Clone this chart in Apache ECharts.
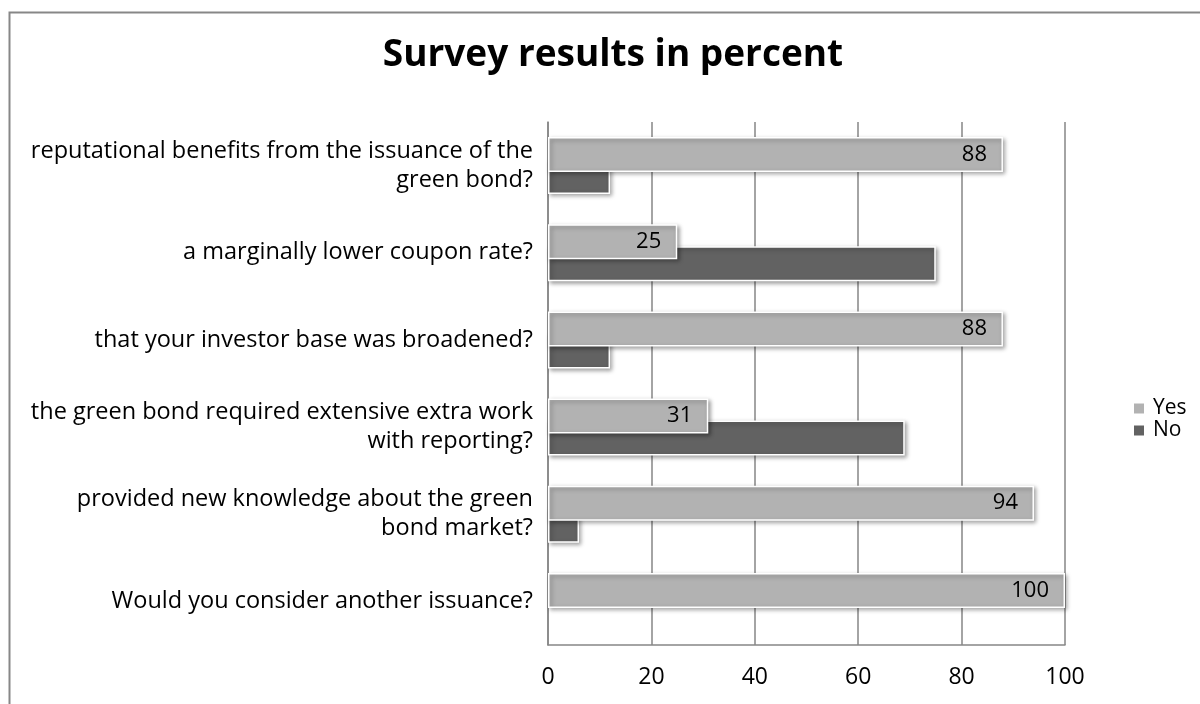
<!DOCTYPE html>
<html>
<head>
<meta charset="utf-8">
<script src="https://cdn.jsdelivr.net/npm/echarts@6/dist/echarts.min.js"></script>
<style>
  html, body { margin: 0; padding: 0; background: #fff; }
  #chart { width: 1200px; height: 704px; }
</style>
</head>
<body>
<div id="chart"></div>
<script>
// questions, top to bottom
const questions = [
    'reputational benefits from the issuance of the\ngreen bond?',
    'a marginally lower coupon rate?',
    'that your investor base was broadened?',
    'the green bond required extensive extra work\nwith reporting?',
    'provided new knowledge about the green\nbond market?',
    'Would you consider another issuance?'
]
const yesValues = [88, 25, 88, 31, 94, 100]
const noValues = [12, 75, 12, 69, 6, 0]
const xTicks = [0, 20, 40, 60, 80, 100]

const font = '"Open Sans", Lato, sans-serif'
const barStyle = (color) => ({
    color: color,
    borderColor: '#ffffff',
    borderWidth: 1.5,
    shadowColor: 'rgba(0,0,0,0.35)',
    shadowBlur: 4,
    shadowOffsetX: 2,
    shadowOffsetY: 2
})

const myChart = echarts.init(document.getElementById('chart'))

const option = {
    animation: false,
    backgroundColor: '#ffffff',
    textStyle: { fontFamily: font },
    graphic: [{
        // outer chart frame (only top and left edges are visible)
        type: 'rect',
        left: 7, top: 10,
        shape: { width: 1300, height: 800 },
        style: { fill: 'none', stroke: '#878787', lineWidth: 2 },
        silent: true
    }],
    title: {
        text: 'Survey results in percent',
        left: 608,
        top: 32,
        textAlign: 'center',
        textStyle: { fontFamily: font, fontSize: 37, fontWeight: 'bold', color: '#000' }
    },
    legend: {
        orient: 'vertical',
        left: 1127,
        top: 393,
        itemWidth: 12,
        itemHeight: 12,
        itemGap: 1,
        icon: 'rect',
        textStyle: { fontFamily: font, fontSize: 21, color: '#000', padding: [0, 0, 0, 3] },
        data: ['Yes', 'No']
    },
    grid: { left: 548, right: 135, top: 122, bottom: 59, containLabel: false },
    xAxis: {
        type: 'value',
        min: xTicks[0],
        max: xTicks[xTicks.length - 1],
        interval: xTicks[1] - xTicks[0],
        axisLine: { show: true, lineStyle: { color: '#868686', width: 1.5 } },
        axisTick: { show: false },
        axisLabel: { fontSize: 23, color: '#000', margin: 21 },
        splitLine: { show: true, lineStyle: { color: '#868686', width: 1.5 } }
    },
    yAxis: {
        type: 'category',
        inverse: true,
        data: questions,
        axisLine: { show: true, lineStyle: { color: '#868686', width: 1.5 } },
        axisTick: { show: false },
        axisLabel: { fontSize: 23.5, color: '#000', margin: 15, align: 'right', lineHeight: 29 }
    },
    series: [
        {
            name: 'Yes',
            type: 'bar',
            data: yesValues,
            barWidth: 35,
            barGap: '-37%',
            z: 3,
            itemStyle: barStyle('#b2b2b2'),
            label: {
                show: true,
                position: 'insideRight',
                distance: 16,
                fontSize: 22,
                color: '#000'
            }
        },
        {
            name: 'No',
            type: 'bar',
            // a zero bar draws nothing in the original
            data: noValues.map(v => v === 0 ? { value: v, itemStyle: { opacity: 0 } } : v),
            barWidth: 35,
            z: 2,
            itemStyle: barStyle('#626262')
        }
    ]
}

myChart.setOption(option)
</script>
</body>
</html>
